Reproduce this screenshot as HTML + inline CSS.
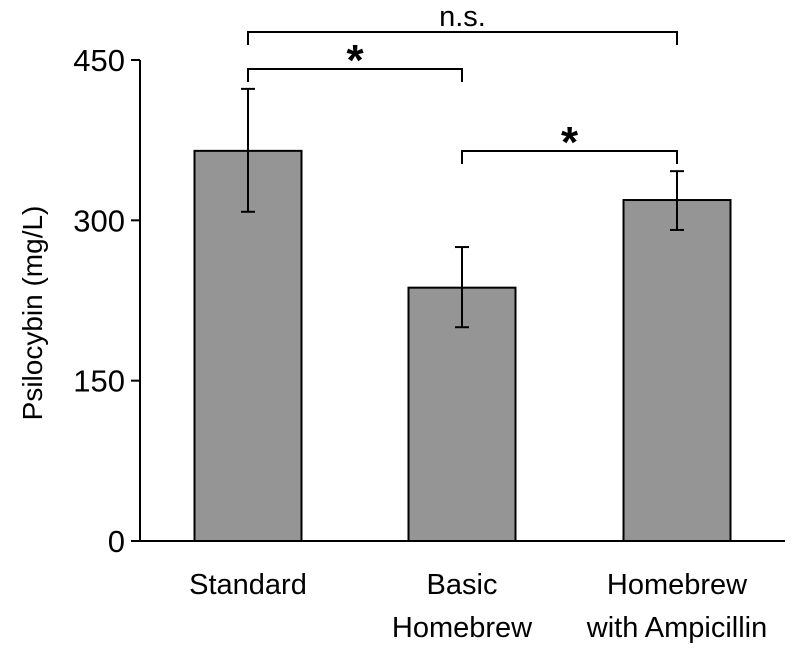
<!DOCTYPE html>
<html><head><meta charset="utf-8"><style>
html,body{margin:0;padding:0;background:#fff;width:800px;height:651px;overflow:hidden}
text{font-family:"Liberation Sans",sans-serif;fill:#000}
</style></head><body>
<svg id="chart" width="800" height="651" viewBox="0 0 800 651" xmlns="http://www.w3.org/2000/svg"></svg>
<script>
const categories = [["Standard"], ["Basic", "Homebrew"], ["Homebrew", "with Ampicillin"]];
const values = [365, 237, 319];
const errLow = [308, 200, 291];
const errHigh = [423, 275, 346];
const yTicks = [0, 150, 300, 450];

const svg = document.getElementById('chart');
const NS = 'http://www.w3.org/2000/svg';
const y0 = 541, y450 = 60, axisX = 140;
const y = v => y0 - (v / 450) * (y0 - y450);
const centers = [248, 462, 677];
const bw = 107;
const x = i => centers[i];

function mk(tag, attrs, parent) {
  const e = document.createElementNS(NS, tag);
  for (const k in attrs) e.setAttribute(k, attrs[k]);
  (parent || svg).appendChild(e);
  return e;
}

values.forEach((v, i) => {
  const r = mk('rect', {x: x(i) - bw / 2, y: y(v), width: bw, height: y0 - y(v), fill: '#959595', stroke: '#000', 'stroke-width': 2});
  
  
});
values.forEach((v, i) => {
  const g = mk('g', {stroke: '#000', 'stroke-width': 2});
  
  
  mk('line', {x1: x(i), x2: x(i), y1: y(errHigh[i]), y2: y(errLow[i])}, g);
  mk('line', {x1: x(i) - 7, x2: x(i) + 7, y1: y(errHigh[i]), y2: y(errHigh[i])}, g);
  mk('line', {x1: x(i) - 7, x2: x(i) + 7, y1: y(errLow[i]), y2: y(errLow[i])}, g);
});
const ax = mk('g', {stroke: '#000', 'stroke-width': 2});


mk('line', {x1: axisX, x2: axisX, y1: y450, y2: y0 + 1}, ax);
mk('line', {x1: axisX, x2: 785, y1: y0, y2: y0}, ax);
yTicks.forEach(t => {
  mk('line', {x1: axisX - 9, x2: axisX, y1: y(t), y2: y(t)}, ax);
  const tx = mk('text', {x: 125, y: y(t) + 11, 'text-anchor': 'end', 'font-size': 31});
  tx.textContent = t;
  
  
});
categories.forEach((lines, i) => {
  lines.forEach((s, j) => {
    const t = mk('text', {x: x(i), y: 594 + j * 43, 'text-anchor': 'middle', 'font-size': 29});
    t.textContent = s;
    
    
  });
});
const yt = mk('text', {x: 0, y: 0, 'text-anchor': 'middle', 'font-size': 28, transform: 'translate(42,313) rotate(-90)'});
yt.textContent = 'Psilocybin (mg/L)';


function bracket(a, b, yy, label, name, size, dy) {
  const g = mk('g', {});
  
  
  mk('path', {d: `M${x(a)},${yy + 13} V${yy} H${x(b)} V${yy + 13}`, fill: 'none', stroke: '#000', 'stroke-width': 2}, g);
  const t = mk('text', {x: (x(a) + x(b)) / 2, y: yy + dy, 'text-anchor': 'middle', 'font-size': size, 'font-weight': label === '*' ? 'bold' : 'normal'}, g);
  t.textContent = label;
}
bracket(0, 2, 32, 'n.s.', 'ns-bracket', 29, -6);
bracket(0, 1, 69, '*', 'sig-bracket-standard-basic', 44, 6);
bracket(1, 2, 151, '*', 'sig-bracket-basic-ampicillin', 44, 6);
</script>
</body></html>
